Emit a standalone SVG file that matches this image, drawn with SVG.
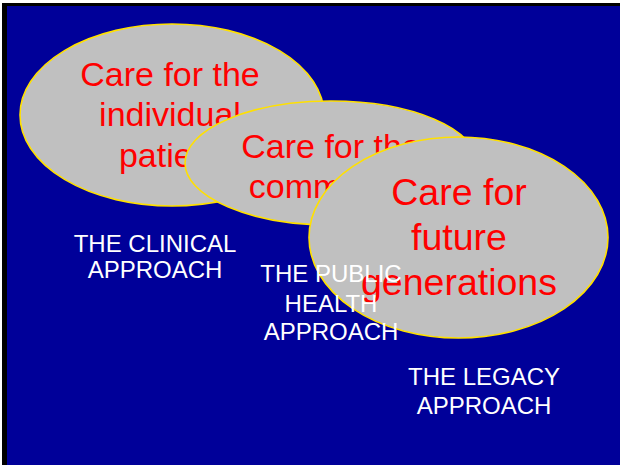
<svg xmlns="http://www.w3.org/2000/svg" width="620" height="465" viewBox="0 0 620 465">
  <style>
    .bubble { fill: #c0c0c0; stroke: #ffe000; stroke-width: 1.6; }
    .care { fill: #ff0000; font-family: "Liberation Sans", Arial, sans-serif; text-anchor: middle; }
    .label { fill: #ffffff; font-family: "Liberation Sans", Arial, sans-serif; font-size: 24px; text-anchor: middle; }
  </style>
  <!-- slide background with dark frame on the top and left -->
  <rect x="0" y="0" width="620" height="465" fill="#ffffff"/>
  <rect x="2" y="3" width="618" height="462" fill="#000000"/>
  <rect x="7" y="6" width="613" height="459" fill="#000099"/>

  <g id="individual">
    <ellipse class="bubble" cx="172" cy="115" rx="152" ry="91"/>
    <text class="care" font-size="34" x="170" y="86">Care for the</text>
    <text class="care" font-size="34" x="170" y="126">individual</text>
    <text class="care" font-size="34" x="170" y="167">patient</text>
  </g>

  <g id="community">
    <ellipse class="bubble" cx="331" cy="163" rx="146" ry="62"/>
    <text class="care" font-size="34" x="331" y="158">Care for the</text>
    <text class="care" font-size="34" x="331" y="198">community</text>
  </g>

  <g id="future">
    <ellipse class="bubble" cx="458.5" cy="237.5" rx="149.5" ry="100.5"/>
    <text class="care" font-size="37.5" x="459" y="205">Care for</text>
    <text class="care" font-size="37.5" x="459" y="250">future</text>
    <text class="care" font-size="37.5" x="459" y="295">generations</text>
  </g>

  <g id="clinical-approach">
    <text class="label" x="155" y="252">THE CLINICAL</text>
    <text class="label" x="155" y="278">APPROACH</text>
  </g>

  <g id="public-health-approach">
    <text class="label" x="331" y="282">THE PUBLIC</text>
    <text class="label" x="331" y="312">HEALTH</text>
    <text class="label" x="331" y="340">APPROACH</text>
  </g>

  <g id="legacy-approach">
    <text class="label" x="484" y="385">THE LEGACY</text>
    <text class="label" x="484" y="414">APPROACH</text>
  </g>

  <g id="connectors"/>
</svg>
